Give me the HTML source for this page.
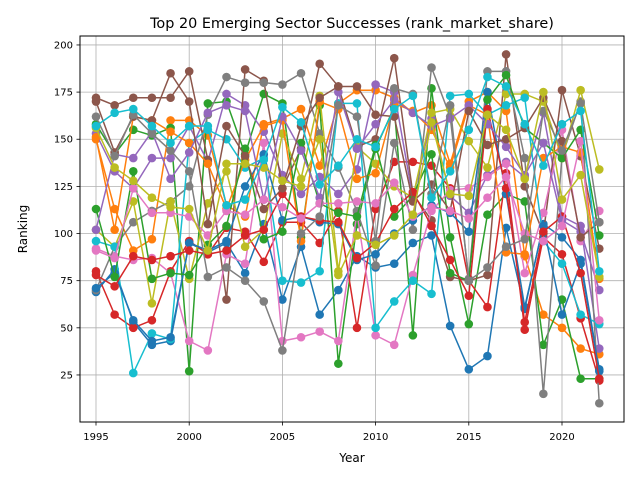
<!DOCTYPE html>
<html><head><meta charset="utf-8">
<style>
body{margin:0;background:#fff;font-family:"Liberation Sans","DejaVu Sans",sans-serif;}
svg text{font-family:"DejaVu Sans","Liberation Sans",sans-serif;}
</style></head>
<body>
<svg id="chart" width="640" height="480">
<rect width="640" height="480" fill="#fff"/>
<text x="352" y="28" text-anchor="middle" font-size="14.4">Top 20 Emerging Sector Successes (rank_market_share)</text>
<g id="grid"></g>
<g id="series"></g>
<rect x="80" y="36" width="544" height="386" fill="none" stroke="#000" stroke-width="1"/>
<g id="ticks"></g>
<text x="352" y="462" text-anchor="middle" font-size="12">Year</text>
<text x="27" y="229" text-anchor="middle" font-size="12" transform="rotate(-90 27 229)">Ranking</text>
</svg>
<script>
const years=[];for(let y=1995;y<=2022;y++)years.push(y);
const xTicks=[1995,2000,2005,2010,2015,2020];
const yTicks=[25,50,75,100,125,150,175,200];
const colors=["#1f77b4","#ff7f0e","#2ca02c","#d62728","#9467bd","#8c564b","#e377c2","#7f7f7f","#bcbd22","#17becf"];
const s1=[69,81,53,41,43,95,90,95,79,105,65,93,57,70,88,82,84,95,99,51,28,35,103,60,105,98,86,28];
const s2=[150,113,91,97,160,160,152,115,109,158,161,166,136,169,176,176,172,164,168,137,170,175,165,88,57,50,39,36];
const s3=[158,142,155,152,156,27,169,170,142,174,169,98,168,31,105,145,167,46,177,98,52,110,121,117,41,65,23,23];
const s4=[80,57,50,54,80,96,89,103,101,85,106,106,95,112,50,113,138,138,136,124,75,61,132,49,98,89,55,22];
const s5=[153,133,124,140,140,157,138,174,168,154,131,121,130,121,134,179,175,119,161,120,111,131,138,130,164,109,104,39];
const s6=[172,168,172,172,172,186,139,65,187,181,124,145,190,178,146,150,193,121,107,77,75,78,195,125,100,176,141,92];
const s7=[92,88,86,87,79,43,38,89,84,148,43,45,48,43,111,46,41,78,112,123,124,130,137,79,111,155,96,112];
const s8=[70,93,106,112,117,125,163,183,180,180,179,185,153,135,112,83,148,102,188,162,76,186,186,140,15,141,170,10];
const s9=[102,93,117,63,117,76,116,133,93,102,153,129,173,80,146,137,125,119,164,166,149,135,174,174,170,140,176,134];
const s10=[96,93,26,47,44,148,155,150,135,140,75,74,80,169,169,50,64,75,68,173,174,163,168,172,96,84,57,52];
const s11=[71,79,54,43,45,95,91,96,125,142,107,109,106,105,86,89,100,107,115,111,101,175,121,61,104,57,84,27];
const s12=[151,102,162,160,154,148,137,113,139,157,160,96,170,166,129,132,169,165,155,135,168,163,90,89,140,146,143,76];
const s13=[113,77,133,76,79,78,94,104,145,97,101,148,116,111,109,147,109,120,142,79,75,171,184,156,148,140,155,99];
const s14=[78,72,88,86,88,91,89,91,99,102,121,109,107,106,87,95,113,122,104,86,67,166,124,53,101,109,79,23];
const s15=[102,142,140,154,129,143,164,168,165,118,162,144,119,175,145,158,171,164,157,161,168,158,146,131,148,107,101,70];
const s16=[170,143,162,160,185,170,105,157,141,113,124,157,172,178,178,163,162,117,126,112,165,147,150,156,172,149,98,106];
const s17=[91,87,124,111,111,109,99,112,110,118,114,108,116,116,117,116,127,109,114,112,108,119,130,100,96,104,149,54];
const s18=[162,141,163,153,144,133,77,82,75,64,38,100,109,168,162,96,177,174,121,168,75,82,93,97,165,144,169,106];
const s19=[156,135,128,119,114,113,91,137,137,135,128,125,150,78,99,94,99,110,159,121,120,163,155,129,175,118,131,77];
const s20=[157,164,166,157,148,157,157,115,118,139,167,159,126,136,150,146,166,173,119,133,155,183,178,158,136,158,165,80];
const allSeries=[s1,s2,s3,s4,s5,s6,s7,s8,s9,s10,s11,s12,s13,s14,s15,s16,s17,s18,s19,s20];

const NS="http://www.w3.org/2000/svg";
const xs=y=>96+(y-1995)*(562-96)/25;
const ys=v=>422.1-v*(330/175);
function mk(tag,attrs,parent){const e=document.createElementNS(NS,tag);for(const k in attrs)e.setAttribute(k,attrs[k]);parent.appendChild(e);return e;}
const grid=document.getElementById('grid'),ticks=document.getElementById('ticks'),ser=document.getElementById('series');
xTicks.forEach(t=>{
  const x=xs(t);
  const g=mk('line',{x1:x,x2:x,y1:36,y2:422,stroke:'#b0b0b0','stroke-width':0.8},grid);
  
  
  mk('line',{x1:x,x2:x,y1:422,y2:425.5,stroke:'#000','stroke-width':0.8},ticks);
  const l=mk('text',{x:x,y:440,'text-anchor':'middle','font-size':10},ticks);
  l.textContent=t;
  
  
});
yTicks.forEach(t=>{
  const y=ys(t);
  const g=mk('line',{x1:80,x2:624,y1:y,y2:y,stroke:'#b0b0b0','stroke-width':0.8},grid);
  
  
  mk('line',{x1:76.5,x2:80,y1:y,y2:y,stroke:'#000','stroke-width':0.8},ticks);
  const l=mk('text',{x:73,y:y+3.5,'text-anchor':'end','font-size':10},ticks);
  l.textContent=t;
  
  
});
allSeries.forEach((s,i)=>{
  const c=colors[i%10];
  const g=mk('g',{},ser);
  
  
  const pts=s.map((v,j)=>xs(years[j])+','+ys(v)).join(' ');
  mk('polyline',{points:pts,fill:'none',stroke:c,'stroke-width':1.5},g);
  s.forEach((v,j)=>{
    const p=mk('circle',{cx:xs(years[j]),cy:ys(v),r:4.3,fill:c},g);
    
    
  });
});
</script>
</body></html>
